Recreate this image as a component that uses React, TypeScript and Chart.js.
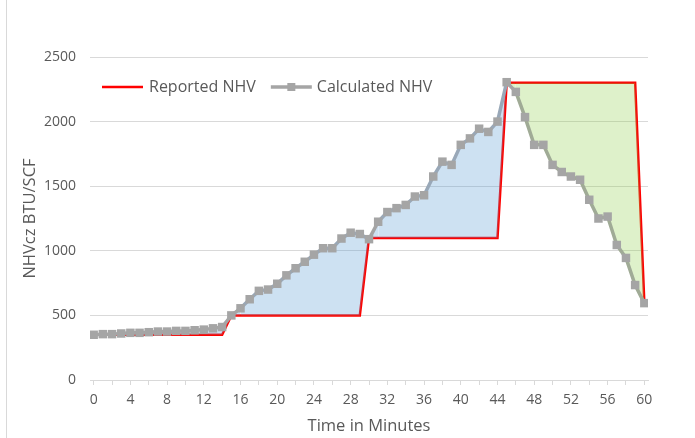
import React, { useEffect, useRef } from 'react';
import { Chart, registerables } from 'chart.js';

Chart.register(...registerables);

const minutes = [
  0, 1, 2, 3, 4, 5, 6, 7, 8, 9, 10, 11, 12, 13, 14, 15, 16, 17, 18, 19, 20,
  21, 22, 23, 24, 25, 26, 27, 28, 29, 30, 31, 32, 33, 34, 35, 36, 37, 38, 39, 40,
  41, 42, 43, 44, 45, 46, 47, 48, 49, 50, 51, 52, 53, 54, 55, 56, 57, 58, 59, 60,
];

const reportedNHV = [
  350, 350, 350, 350, 350, 350, 350, 350, 350, 350, 350, 350, 350, 350, 350,
  500, 500, 500, 500, 500, 500, 500, 500, 500, 500, 500, 500, 500, 500, 500,
  1100, 1100, 1100, 1100, 1100, 1100, 1100, 1100, 1100, 1100, 1100, 1100, 1100, 1100, 1100,
  2300, 2300, 2300, 2300, 2300, 2300, 2300, 2300, 2300, 2300, 2300, 2300, 2300, 2300, 2300,
  600,
];

const calculatedNHV = [
  350, 355, 355, 360, 365, 365, 370, 375, 375, 380, 380, 385, 390, 400, 410,
  500, 555, 625, 690, 700, 745, 810, 865, 915, 970, 1020, 1020, 1095, 1140, 1130,
  1090, 1225, 1300, 1330, 1355, 1420, 1430, 1575, 1690, 1665, 1820, 1870, 1945, 1920, 2000,
  2305, 2230, 2035, 1820, 1820, 1665, 1610, 1575, 1550, 1395, 1250, 1265, 1045, 945, 735,
  595,
];

const xTickValues = [
  0, 2, 4, 6, 8, 10, 12, 14, 16, 18, 20, 22, 24, 26, 28, 30,
  32, 34, 36, 38, 40, 42, 44, 46, 48, 50, 52, 54, 56, 58, 60,
];
const xLabelEvery = 4;
const yTickValues = [0, 500, 1000, 1500, 2000, 2500];

const seriesNames = ['Reported NHV', 'Calculated NHV'];
const xAxisTitle = 'Time in Minutes';
const yAxisTitle = 'NHVcz BTU/SCF';

const FONT = '"Open Sans", "Noto Sans", sans-serif';
const TEXT = '#595959';
const GRID = '#d9d9d9';
const RED = '#ff0000';
const GRAY = '#a5a5a5';
const GRAY_BLUE = '#99a8b8';
const GRAY_GREEN = '#a0ab96';
const FILL_BLUE = 'rgba(91,155,213,0.30)';
const FILL_GREEN = 'rgba(146,208,80,0.30)';

const legendPlugin = {
  id: 'insideLegend',
  afterDraw(chart: any) {
    const ctx = chart.ctx;
    ctx.save();
    ctx.font = `16px ${FONT}`;
    ctx.textBaseline = 'middle';
    ctx.textAlign = 'left';
    const y = 87;
    let x = 102;
    ctx.strokeStyle = RED;
    ctx.lineWidth = 2.5;
    ctx.beginPath();
    ctx.moveTo(x, y);
    ctx.lineTo(x + 41, y);
    ctx.stroke();
    ctx.fillStyle = TEXT;
    ctx.fillText(seriesNames[0], x + 47, y);
    x = x + 47 + ctx.measureText(seriesNames[0]).width + 15;
    ctx.strokeStyle = GRAY;
    ctx.lineWidth = 3.5;
    ctx.beginPath();
    ctx.moveTo(x, y);
    ctx.lineTo(x + 41, y);
    ctx.stroke();
    ctx.fillStyle = GRAY;
    ctx.fillRect(x + 20.5 - 4, y - 4, 8, 8);
    ctx.fillStyle = TEXT;
    ctx.fillText(seriesNames[1], x + 46, y);
    ctx.restore();
  },
};

export default function App() {
  const canvasRef = useRef<HTMLCanvasElement | null>(null);

  useEffect(() => {
    const canvas = canvasRef.current;
    if (!canvas) return;

    const reportedPoints = minutes.map((m, i) => ({ x: m, y: reportedNHV[i] }));
    const calculatedPoints = minutes.map((m, i) => ({ x: m, y: calculatedNHV[i] }));

    const segColor = (ctx: any) => {
      const i0 = ctx.p0DataIndex;
      const i1 = ctx.p1DataIndex;
      const d = (calculatedNHV[i0] + calculatedNHV[i1] - reportedNHV[i0] - reportedNHV[i1]) / 2;
      if (d > 60) return GRAY_BLUE;
      if (d < -60) return GRAY_GREEN;
      return GRAY;
    };

    const chart = new Chart(canvas, {
      type: 'line',
      data: {
        datasets: [
          {
            label: seriesNames[0],
            data: reportedPoints,
            borderColor: RED,
            borderWidth: 2.5,
            pointRadius: 0,
            tension: 0,
            fill: false,
            order: 2,
          },
          {
            label: seriesNames[1],
            data: calculatedPoints,
            borderColor: GRAY,
            borderWidth: 3.5,
            pointStyle: 'rect',
            pointRadius: 6,
            pointBackgroundColor: GRAY,
            pointBorderColor: GRAY,
            pointBorderWidth: 0,
            tension: 0,
            fill: { target: 0, above: FILL_BLUE, below: FILL_GREEN },
            segment: { borderColor: segColor },
            order: 1,
          },
        ],
      },
      options: {
        responsive: false,
        animation: false,
        events: [],
        layout: { padding: { left: 16, top: 57, right: 47, bottom: 0 } },
        plugins: {
          legend: { display: false },
          tooltip: { enabled: false },
          filler: { propagate: false },
        },
        scales: {
          x: {
            type: 'linear',
            min: -0.4,
            max: 60.4,
            afterBuildTicks: (scale: any) => {
              scale.ticks = xTickValues.map((value) => ({ value }));
            },
            afterFit: (scale: any) => {
              scale.height = 58;
            },
            ticks: {
              autoSkip: false,
              maxRotation: 0,
              padding: 7,
              color: TEXT,
              font: { family: FONT, size: 14 },
              callback: (value: any) => (Number(value) % xLabelEvery === 0 ? String(value) : ''),
            },
            grid: {
              drawOnChartArea: false,
              drawTicks: true,
              tickLength: 5,
              color: GRID,
            },
            border: { display: true, color: GRID, width: 1 },
            title: {
              display: true,
              text: xAxisTitle,
              color: TEXT,
              font: { family: FONT, size: 16.5 },
              padding: { top: 0, bottom: 2 },
            },
          },
          y: {
            type: 'linear',
            min: 0,
            max: 2500,
            afterBuildTicks: (scale: any) => {
              scale.ticks = yTickValues.map((value) => ({ value }));
            },
            afterFit: (scale: any) => {
              scale.width = 74;
            },
            ticks: {
              padding: 14,
              color: TEXT,
              font: { family: FONT, size: 14 },
              callback: (value: any) => String(value),
            },
            grid: { color: GRID, drawTicks: false },
            border: { display: false },
            title: {
              display: true,
              text: yAxisTitle,
              color: TEXT,
              font: { family: FONT, size: 16.5 },
              padding: { top: 4, bottom: 4 },
            },
          },
        },
      },
      plugins: [legendPlugin],
    });

    return () => chart.destroy();
  }, []);

  return (
    <div
      style={{
        position: 'absolute',
        left: 0,
        top: 0,
        width: 695,
        height: 438,
        background: '#ffffff',
      }}
    >
      <div
        style={{
          position: 'absolute',
          left: 6,
          top: 0,
          width: 0,
          height: 438,
          borderLeft: `1px solid ${GRID}`,
        }}
      />
      <canvas ref={canvasRef} width={695} height={438} style={{ position: 'absolute', left: 0, top: 0 }} />
    </div>
  );
}
